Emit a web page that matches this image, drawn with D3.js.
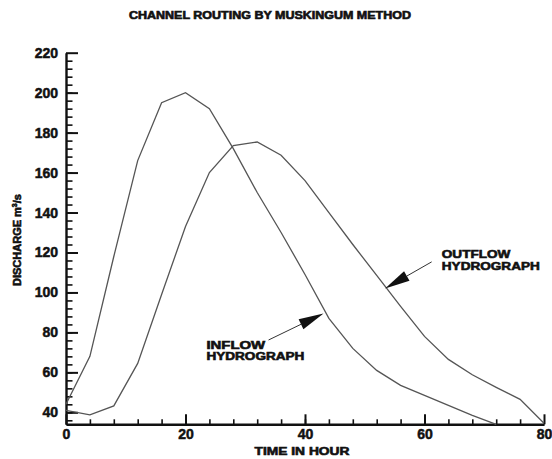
<!DOCTYPE html>
<html>
<head>
<meta charset="utf-8">
<script src="https://cdn.jsdelivr.net/npm/d3@7.9.0/dist/d3.min.js"></script>
<style>
  body { margin: 0; background: #fff; }
  svg { display: block; font-family: "Liberation Sans", Arial, sans-serif; }
  .axis text { font-size: 14px; font-weight: bold; fill: #111; stroke: #111; stroke-width: 0.5; }
  .axis path, .axis line { stroke: #111; }
  .lbl { fill: #111; stroke: #111; stroke-width: 0.6; font-weight: bold; }
</style>
</head>
<body>
<svg id="chart" width="552" height="459"></svg>
<script>
// time in hours, 4-hour steps
const inflowTime = [0, 4, 8, 12, 16, 20, 24, 28, 32, 36, 40, 44, 48, 52, 56, 60, 64, 68, 72];
const inflowQ = [44, 68, 118, 166, 195, 200, 192, 172, 150, 130, 109, 87, 72, 61, 53.5, 48.5, 43.5, 38.5, 34];

const outflowTime = [0, 4, 8, 12, 16, 20, 24, 28, 32, 36, 40, 44, 48, 52, 56, 60, 64, 68, 72, 76, 80];
const outflowQ = [41, 38.7, 43.2, 64.5, 99, 133, 160, 173.5, 175.3, 168.7, 156, 140, 124, 108.5, 93, 78, 66.5, 58.8, 52.5, 46.5, 34.5];

const xTicks = [0, 20, 40, 60, 80];
const yTicks = [40, 60, 80, 100, 120, 140, 160, 180, 200, 220];

const svg = d3.select('#chart');

const x = d3.scaleLinear().domain([0, 80]).range([66, 544]);
const y = d3.scaleLinear().domain([34, 220]).range([424.3, 52.7]);

// minor ticks every 4
svg.append('g')
  .attr('class', 'axis')
  .attr('transform', `translate(0,${y(34)})`)
  .call(d3.axisBottom(x).tickValues(d3.range(4, 80, 4)).tickSize(-5).tickSizeOuter(0).tickFormat(''))
  .call(g => g.selectAll('line').attr('stroke-width', 1.6));

svg.append('g')
  .attr('class', 'axis')
  .attr('transform', `translate(${x(0)},0)`)
  .call(d3.axisLeft(y).tickValues(d3.range(36, 220, 4)).tickSize(-6.5).tickSizeOuter(0).tickFormat(''))
  .call(g => g.selectAll('line').attr('stroke-width', 1.6));

// major ticks
svg.append('g')
  .attr('class', 'axis')
  .attr('transform', `translate(0,${y(34)})`)
  .call(d3.axisBottom(x).tickValues(xTicks).tickSize(-10).tickSizeOuter(0).tickPadding(4))
  .call(g => g.select('.domain').attr('stroke-width', 2.4))
  .call(g => g.selectAll('line').attr('stroke-width', 2))
  .call(g => g.selectAll('text').attr('dy', '0.75em').attr('y', 4));

svg.append('g')
  .attr('class', 'axis')
  .attr('transform', `translate(${x(0)},0)`)
  .call(d3.axisLeft(y).tickValues(yTicks).tickSize(-12).tickSizeOuter(0).tickPadding(0))
  .call(g => g.select('.domain').attr('stroke-width', 2.4))
  .call(g => g.selectAll('line').attr('stroke-width', 2))
  .call(g => g.selectAll('text').attr('x', -8));

// hydrographs
const line = d3.line().x(d => x(d[0])).y(d => y(d[1]));

svg.append('path')
  .datum(d3.zip(inflowTime, inflowQ))
  .attr('d', line)
  .attr('fill', 'none')
  .attr('stroke', '#555')
  .attr('stroke-width', 1.3);

svg.append('path')
  .datum(d3.zip(outflowTime, outflowQ))
  .attr('d', line)
  .attr('fill', 'none')
  .attr('stroke', '#555')
  .attr('stroke-width', 1.3);

// annotations (data coords)
const notes = [
  { lines: ['OUTFLOW', 'HYDROGRAPH'], at: [62.9, 118.6], tail: [61.2, 115.3], tip: [53.4, 102] },
  { lines: ['INFLOW', 'HYDROGRAPH'], at: [23.5, 73.3], tail: [33.9, 76.2], tip: [43.1, 89.5] }
];

notes.forEach(n => {
  const tx = x(n.tail[0]), ty = y(n.tail[1]);
  const px = x(n.tip[0]), py = y(n.tip[1]);
  const ang = Math.atan2(py - ty, px - tx);
  const len = 25, half = 5.5;
  const bx = px - len * Math.cos(ang), by = py - len * Math.sin(ang);
  svg.append('line')
    .attr('x1', tx).attr('y1', ty).attr('x2', bx).attr('y2', by)
    .attr('stroke', '#333').attr('stroke-width', 1);
  svg.append('path')
    .attr('d', `M${px},${py}L${bx - half * Math.sin(ang)},${by + half * Math.cos(ang)}L${bx + half * Math.sin(ang)},${by - half * Math.cos(ang)}Z`)
    .attr('fill', '#111');
  n.lines.forEach((t, i) => {
    svg.append('text')
      .attr('class', 'lbl')
      .attr('x', x(n.at[0]))
      .attr('y', y(n.at[1]) + i * 11.5)
      .attr('dominant-baseline', 'middle')
      .attr('font-size', 11)
      .attr('textLength', t.length * 9.8)
      .attr('lengthAdjust', 'spacingAndGlyphs')
      .text(t);
  });
});

// title and axis labels
svg.append('text')
  .attr('class', 'lbl')
  .attr('x', 270).attr('y', 16)
  .attr('text-anchor', 'middle')
  .attr('dominant-baseline', 'middle')
  .attr('font-size', 10)
  .attr('textLength', 282)
  .attr('lengthAdjust', 'spacingAndGlyphs')
  .text('CHANNEL ROUTING BY MUSKINGUM METHOD');

svg.append('text')
  .attr('class', 'lbl')
  .attr('x', 302).attr('y', 452)
  .attr('text-anchor', 'middle')
  .attr('dominant-baseline', 'middle')
  .attr('font-size', 11)
  .attr('textLength', 95)
  .attr('lengthAdjust', 'spacingAndGlyphs')
  .text('TIME IN HOUR');

const yl = svg.append('text')
  .attr('class', 'lbl')
  .attr('transform', 'translate(21,240) rotate(-90)')
  .attr('text-anchor', 'middle')
  .attr('font-size', 11);
yl.append('tspan').text('DISCHARGE m');
yl.append('tspan').attr('font-size', 7).attr('dy', -4).text('3');
yl.append('tspan').attr('dy', 4).text('/s');
</script>
</body>
</html>
